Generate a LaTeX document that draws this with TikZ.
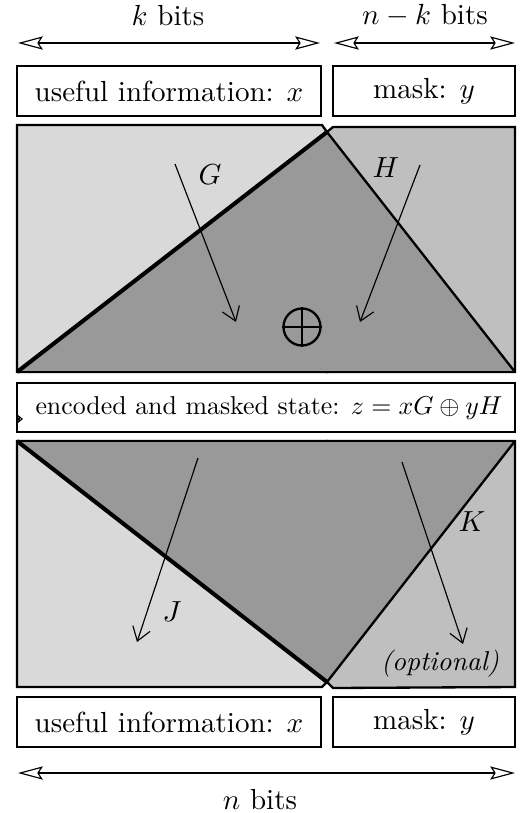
\documentclass[tikz,border=0pt]{standalone}
\usepackage{amsmath}
\usepackage{amssymb}
\usepackage{tikz}
\usetikzlibrary{arrows.meta,positioning}
\definecolor{cdlight}{gray}{0.85}
\definecolor{cdmid}{gray}{0.75}
\definecolor{cddark}{gray}{0.60}

\begin{document}
\begin{tikzpicture}[x=0.0121cm,y=-0.0121cm,
    dimarrow/.style={{Stealth[open,length=3mm,width=1.6mm,inset=0.5mm]}-{Stealth[open,length=3mm,width=1.6mm,inset=0.5mm]},thin},
    maparrow/.style={-{Straight Barb[length=1.6mm,width=2.2mm]},thin},
    box/.style={draw,thick,fill=white},
    edge/.style={draw,thick}]
      \useasboundingbox (0,0) rectangle (520,813);
      % widths
      \node (kbits) at (168,16) {$k$ bits};
      \node (nkbits) at (425,16) {$n-k$ bits};
      \coordinate (kl) at (18,43);
      \coordinate (kr) at (320,43);
      \coordinate (nl) at (334,43);
      \coordinate (nr) at (515,43);
      \draw[dimarrow] (kl) -- (kr);
      \draw[dimarrow] (nl) -- (nr);
      % top row
      \draw[box] (17,66) rectangle (321,116);
      \draw[box] (333,66) rectangle (515,116);
      \node (infotop) at (169,91) {useful information: $x$};
      \node (masktop) at (424,91) {mask: $y$};
      % encoding panel
      \filldraw[edge,fill=cdlight] (17,125) -- (322,125) -- (327,132) -- (327,372) -- (17,372) -- cycle;
      \filldraw[edge,fill=cdmid] (333,127) -- (515,127) -- (515,372) -- (327,372) -- (327,132) -- cycle;
      \fill[cddark] (17,372) -- (327,132) -- (515,372) -- cycle;
      \draw[line width=1.4pt] (17,372) -- (327,132);
      \draw[thick] (327,132) -- (515,372);
      \draw[thick] (17,372) -- (515,372);
      \node (G) at (210,175) {$G$};
      \node (H) at (386,168) {$H$};
      \draw[maparrow] (175,164) -- (236,322);
      \draw[maparrow] (420,165) -- (360,322);
      \node[circle,draw,thick,inner sep=0pt,minimum size=37*0.0121cm] (xor) at (302,327) {};
      \draw[thick] (xor.north) -- (xor.south) (xor.west) -- (xor.east);
      % state
      \draw[box] (17,383) rectangle (515,432);
      \node[scale=0.89] (state) at (269,408) {encoded and masked state: $z = xG \oplus yH$};
      \draw[-{Stealth[open,length=0.7mm,width=1.1mm]},thin] (17,419) -- (23,419);
      % decoding panel
      \filldraw[edge,fill=cdlight] (17,441) -- (327,441) -- (327,682) -- (322,687) -- (17,687) -- cycle;
      \filldraw[edge,fill=cdmid] (327,441) -- (515,441) -- (515,687) -- (333,688) -- (327,682) -- cycle;
      \fill[cddark] (17,441) -- (515,441) -- (327,682) -- cycle;
      \draw[line width=1.4pt] (17,441) -- (327,682);
      \draw[thick] (515,441) -- (327,682);
      \draw[thick] (17,441) -- (515,441);
      \node (J) at (172,612) {$J$};
      \node (K) at (472,522) {$K$};
      \node[scale=0.94] (opt) at (440,664) {\textit{(optional)}};
      \draw[maparrow] (198,458) -- (137,642);
      \draw[maparrow] (402,462) -- (463,644);
      % bottom row
      \draw[box] (17,697) rectangle (321,747);
      \draw[box] (333,697) rectangle (515,747);
      \node (infobot) at (169,722) {useful information: $x$};
      \node (maskbot) at (424,722) {mask: $y$};
      \coordinate (al) at (18,773);
      \coordinate (ar) at (515,773);
      \draw[dimarrow] (al) -- (ar);
      \node (nbits) at (260,800) {$n$ bits};
    \end{tikzpicture}
\end{document}
